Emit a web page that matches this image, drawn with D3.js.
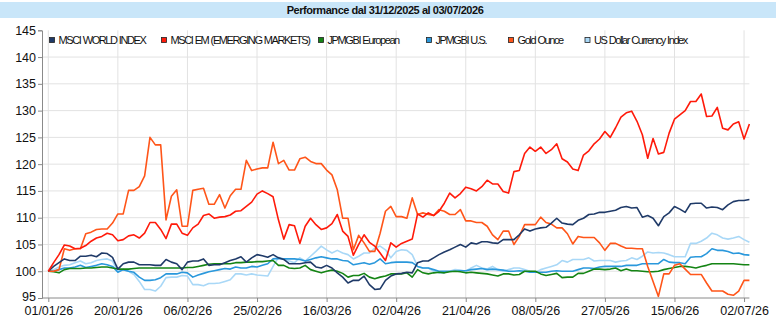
<html>

<head>
    <style>
        body { margin: 0; background: #fff; }
        text { font-family: "Liberation Sans", Arial, sans-serif; }
    </style>
</head>

<body>
    <div id="my_dataviz"></div>
</body>

<script src="https://d3js.org/d3.v7.min.js"></script>
<script>
    // x axis: trading days from 01/01/26 (index 0) to 03/07/26 (index 131)
    var tickLabels = ["01/01/26", "20/01/26", "06/02/26", "25/02/26", "16/03/26", "02/04/26",
        "21/04/26", "08/05/26", "27/05/26", "15/06/26", "02/07/26"];
    var tickIndex = [0, 13, 26, 39, 52, 65, 78, 91, 104, 117, 130];
    var lastIndex = 131;

    var seriesNames = ["MSCI WORLD INDEX", "MSCI EM (EMERGING MARKETS)", "JPMGBI European",
        "JPMGBI U.S.", "Gold Ounce", "US Dollar Currency Index"];
    var seriesColors = ["#1f3a68", "#ff1a0a", "#148414", "#2a98dc", "#ff5519", "#a9d8f7"];

    var msciWorld = [100, 100.9, 101.6, 102.3, 102.0, 102.0, 102.8, 102.8, 103.0, 102.7, 103.4, 103.3, 102.6, 100.4, 101.4, 101.7, 101.7, 101.2, 101.2, 101.2, 101.1, 101.1, 102.2, 101.7, 101.4, 100.3, 101.7, 101.9, 101.9, 102.3, 101.1, 101.2, 101.2, 101.6, 102.0, 102.3, 102.7, 101.7, 102.5, 103.1, 102.9, 102.6, 103.1, 102.5,
        102.2, 101.4, 101.4, 101.4, 101.6, 101.7, 100.8, 100.6, 101.1, 100.6, 99.7, 98.9, 97.8, 98.3, 98.3, 99.1, 97.5, 96.6, 96.7, 98.3, 99.1, 99.5, 99.6, 99.8, 99.7, 101.6, 101.9, 101.9, 102.5, 103.1, 103.6, 104.0, 104.5, 105.0, 104.5, 105.3, 105.1, 105.5, 105.5, 105.3, 105.2, 105.9, 105.9, 105.9, 106.8,
        107.9, 107.5, 107.9, 108.1, 108.2, 109.0, 109.9, 109.0, 108.8, 108.7, 109.5, 109.9, 110.6, 110.7, 111.0, 111.0, 111.2, 111.4, 111.9, 112.1, 111.8, 111.9, 110.1, 110.4, 109.9, 108.5, 110.2, 110.9, 112.1, 111.6, 111.0, 112.6, 112.7, 112.7, 111.8, 112.0, 111.9, 111.5, 112.4, 113.0, 113.2, 113.2, 113.4];

    var msciEm = [100, 101.6, 103.1, 104.9, 104.7, 104.2, 104.3, 104.8, 105.6, 106.2, 106.5, 107.1, 106.8, 105.7, 105.9, 106.6, 106.8, 106.2, 107.1, 109.1, 109.1, 107.8, 106.1, 108.8, 108.8, 107.1, 106.7, 108.1, 108.8, 110.4, 110.7, 109.9, 110.1, 110.2, 110.5, 111.2, 111.3, 112.1, 112.9, 114.4, 115.0, 114.5, 113.9, 109.6,
        106.0, 108.7, 108.5, 105.2, 108.4, 109.9, 108.7, 107.8, 108.1, 108.9, 110.6, 107.5, 106.5, 103.0, 105.0, 106.8, 105.4, 104.7, 103.4, 102.0, 105.3, 104.5, 105.2, 105.6, 106.0, 110.7, 110.1, 110.9, 110.4, 111.2, 112.7, 114.6, 113.7, 114.5, 115.7, 115.4, 115.0, 115.8, 117.0, 116.3, 116.3, 114.9, 114.6, 118.6, 118.8,
        122.0, 123.2, 122.4, 123.2, 122.0, 122.7, 123.8, 121.0, 120.4, 119.1, 118.8, 121.7, 122.5, 123.8, 124.7, 126.1, 125.0, 126.8, 128.8, 129.6, 129.9, 128.0, 125.5, 121.1, 124.8, 121.9, 122.2, 125.8, 128.4, 129.2, 130.0, 131.7, 131.7, 133.1, 128.9, 129.0, 130.6, 126.7, 126.4, 127.5, 127.9, 124.7, 127.5];

    var jpmEuro = [100, 99.9, 99.7, 100.3, 100.5, 100.5, 100.5, 100.6, 100.6, 100.7, 100.8, 100.8, 100.6, 100.4, 100.4, 100.4, 100.5, 100.6, 100.6, 100.6, 100.6, 100.6, 100.6, 100.6, 100.6, 100.6, 100.7, 100.7, 100.9, 101.1, 101.3, 101.4, 101.4, 101.4, 101.4, 101.6, 101.6, 101.7, 101.7, 101.8, 101.8, 101.9, 102.0, 101.1,
        101.1, 100.6, 100.5, 100.6, 101.1, 100.3, 100.0, 99.7, 100.0, 100.2, 100.0, 99.6, 98.9, 99.2, 99.2, 99.6, 98.9, 98.6, 98.9, 99.1, 99.5, 99.5, 99.5, 99.7, 98.9, 100.3, 99.7, 99.5, 99.7, 99.8, 99.7, 99.9, 100.0, 99.9, 99.7, 99.8, 99.7, 99.6, 99.5, 99.3, 99.1, 99.5, 99.5, 99.3, 99.4,
        100.0, 100.0, 100.0, 99.5, 99.2, 99.4, 99.6, 98.8, 98.9, 98.9, 99.6, 99.6, 100.0, 100.4, 100.4, 100.3, 100.4, 100.6, 100.1, 100.4, 100.1, 100.1, 100.0, 99.9, 99.9, 100.0, 100.3, 100.5, 100.7, 100.9, 100.9, 100.8, 100.6, 100.9, 101.1, 101.4, 101.4, 101.4, 101.4, 101.4, 101.3, 101.2, 101.2];

    var jpmUs = [100, 100, 100.3, 100.6, 100.6, 100.8, 101.1, 100.7, 100.9, 101.1, 101.4, 101.2, 100.9, 99.8, 100.3, 100.0, 99.8, 98.9, 98.3, 98.3, 98.4, 98.8, 99.5, 99.5, 99.5, 99.8, 99.7, 98.9, 99.3, 99.6, 99.9, 100.1, 100.3, 100.5, 100.4, 100.8, 100.6, 100.6, 100.9, 100.8, 101.1, 101.4, 102.3, 102.4,
        102.3, 102.3, 102.3, 102.2, 101.9, 102.2, 102.5, 102.7, 102.5, 102.3, 102.3, 102.0, 101.9, 101.2, 101.4, 101.6, 101.3, 101.6, 102.3, 101.4, 101.6, 101.7, 101.7, 101.7, 101.6, 100.9, 100.6, 100.6, 100.3, 100.0, 100.0, 100.0, 100.0, 100.1, 100.1, 100.3, 100.4, 100.5, 100.3, 100.4, 100.3, 100.2, 100.0, 100.0, 100.1,
        100.0, 99.8, 99.8, 99.8, 99.8, 100.0, 100.1, 100.0, 100.0, 100.0, 100.3, 100.6, 100.6, 100.5, 100.8, 100.9, 100.9, 100.9, 100.9, 101.1, 101.1, 101.1, 101.4, 101.4, 101.4, 101.4, 102.2, 101.7, 101.6, 101.6, 101.4, 102.6, 102.7, 102.7, 103.3, 104.2, 103.9, 103.9, 103.7, 103.3, 103.4, 103.1, 103.0];

    var goldOunce = [100, 100, 100.3, 104.2, 103.9, 104.2, 104.2, 107.0, 107.3, 107.8, 107.9, 107.9, 109.0, 110.7, 110.7, 115.1, 115.1, 115.8, 117.8, 125.0, 123.6, 123.6, 109.6, 114.0, 115.2, 108.4, 108.4, 115.1, 115.3, 115.5, 112.5, 112.5, 114.3, 111.8, 114.1, 115.3, 115.3, 120.7, 118.8, 119.1, 119.3, 119.3, 124.1, 120.1,
        120.7, 118.9, 118.9, 121.0, 121.3, 120.5, 120.1, 120.1, 118.9, 118.0, 115.2, 109.9, 109.9, 104.0, 106.7, 105.3, 103.7, 103.7, 107.1, 111.2, 112.1, 110.2, 110.2, 109.9, 113.7, 110.6, 110.9, 110.6, 110.4, 111.5, 111.2, 110.6, 110.6, 111.5, 109.4, 109.4, 109.1, 109.1, 108.4, 106.8, 105.9, 107.5, 107.5, 105.0, 106.5,
        108.7, 108.7, 108.7, 110.1, 109.1, 108.8, 108.1, 108.1, 107.0, 105.1, 106.5, 106.3, 106.3, 106.3, 105.3, 103.9, 105.2, 105.2, 104.7, 104.3, 104.3, 104.2, 104.2, 100.9, 98.1, 95.3, 99.5, 99.5, 101.1, 101.4, 100.4, 99.4, 99.4, 99.4, 97.8, 96.3, 96.3, 96.3, 95.7, 95.5, 96.3, 98.3, 98.3];

    var usDollar = [100, 100.3, 100.8, 101.1, 101.2, 101.6, 101.9, 101.4, 101.6, 102.0, 102.2, 102.3, 101.9, 100.0, 100.3, 100.0, 99.4, 98.1, 96.6, 96.6, 96.3, 97.2, 98.8, 98.9, 98.9, 99.2, 99.1, 97.5, 97.5, 97.3, 97.7, 97.7, 97.8, 98.1, 98.4, 99.5, 99.5, 99.3, 99.5, 99.3, 99.2, 99.1, 100.9, 102.6,
        102.2, 101.9, 101.6, 102.5, 101.9, 102.8, 103.7, 104.7, 104.0, 103.4, 103.9, 103.4, 103.1, 102.3, 102.8, 103.4, 103.4, 104.3, 104.7, 104.0, 102.5, 103.7, 104.0, 103.9, 103.1, 100.9, 100.6, 100.6, 100.0, 99.7, 99.7, 100.0, 100.3, 100.2, 100.0, 100.6, 101.1, 100.6, 100.4, 100.9, 100.3, 100.0, 100.3, 100.6, 100.6,
        100.3, 100.0, 99.8, 100.3, 100.6, 100.9, 101.2, 102.0, 101.7, 102.2, 102.2, 102.2, 102.5, 101.9, 102.0, 102.0, 102.0, 101.7, 101.9, 102.0, 102.5, 102.2, 102.8, 103.6, 103.4, 103.5, 103.4, 103.1, 102.7, 102.7, 102.7, 105.2, 105.2, 105.6, 106.2, 107.1, 106.8, 106.2, 106.0, 106.2, 106.5, 105.9, 105.4];

    var yTicks = [95, 100, 105, 110, 115, 120, 125, 130, 135, 140, 145];

    var W = 776, H = 326;
    var plotLeft = 42, plotRight = 749.4, plotTop = 30.3, plotBottom = 298;

    var svg = d3.select("#my_dataviz")
        .append("svg")
        .attr("width", W)
        .attr("height", H);

    // title band
    svg.append("rect")
        .attr("x", 0).attr("y", 2)
        .attr("width", W).attr("height", 16)
        .attr("fill", "#c9e6f9");
    svg.append("text")
        .attr("x", 385).attr("y", 14)
        .attr("text-anchor", "middle")
        .style("font-size", "11px")
        .style("font-weight", "bold")
        .style("letter-spacing", "-0.45px")
        .attr("fill", "#111")
        .text("Performance dal 31/12/2025 al 03/07/2026");

    var x = d3.scaleLinear()
        .domain([0, lastIndex])
        .range([48.3, plotRight]);

    var y = d3.scaleLinear()
        .domain([95, 145])
        .range([plotBottom, plotTop]);

    // grid
    svg.append("g")
        .selectAll("line")
        .data(yTicks.filter(function (d) { return d > 95 && d < 145; }))
        .enter()
        .append("line")
        .attr("x1", plotLeft).attr("x2", plotRight)
        .attr("y1", function (d) { return y(d); })
        .attr("y2", function (d) { return y(d); })
        .attr("stroke", "#e2e2e2")
        .attr("stroke-width", 1);

    svg.append("g")
        .selectAll("line")
        .data(tickIndex)
        .enter()
        .append("line")
        .attr("x1", function (d) { return x(d); })
        .attr("x2", function (d) { return x(d); })
        .attr("y1", plotTop).attr("y2", plotBottom)
        .attr("stroke", "#e2e2e2")
        .attr("stroke-width", 1);

    // legend
    var legendX = [49.5, 161.5, 318.5, 426.5, 508.5, 585];
    var legend = svg.append("g");
    seriesNames.forEach(function (name, i) {
        legend.append("rect")
            .attr("x", legendX[i]).attr("y", 37.5)
            .attr("width", 5).attr("height", 5)
            .attr("fill", seriesColors[i])
            .attr("stroke", "#222")
            .attr("stroke-width", 0.8);
        legend.append("text")
            .attr("x", legendX[i] + 9).attr("y", 43.5)
            .style("font-size", "11px")
            .style("letter-spacing", "-1.4px")
            .style("word-spacing", "0.6px")
            .attr("fill", "#111")
            .text(name);
    });

    // lines
    var line = d3.line()
        .x(function (d, i) { return x(i); })
        .y(function (d) { return y(d); });

    var drawOrder = [5, 3, 2, 4, 0, 1];
    var allSeries = [msciWorld, msciEm, jpmEuro, jpmUs, goldOunce, usDollar];
    drawOrder.forEach(function (k) {
        svg.append("path")
            .datum(allSeries[k])
            .attr("fill", "none")
            .attr("stroke", seriesColors[k])
            .attr("stroke-width", 1.6)
            .attr("stroke-linejoin", "round")
            .attr("d", line);
    });

    // axes
    var xAxis = svg.append("g")
        .attr("transform", "translate(0," + plotBottom + ")")
        .call(d3.axisBottom(x)
            .tickValues(tickIndex)
            .tickFormat(function (d, i) { return tickLabels[i]; })
            .tickSize(4)
            .tickPadding(4));
    xAxis.select(".domain").attr("d", "M" + plotLeft + ",0H" + plotRight);

    var yAxis = svg.append("g")
        .attr("transform", "translate(" + plotLeft + ",0)")
        .call(d3.axisLeft(y)
            .tickValues(yTicks)
            .tickSize(4)
            .tickPadding(2));

    [xAxis, yAxis].forEach(function (ax) {
        ax.select(".domain").attr("stroke", "#8a8a8a");
        ax.selectAll(".tick line").attr("stroke", "#8a8a8a");
        ax.selectAll("text")
            .style("font-size", "12.5px")
            .style("font-family", "'Liberation Sans', Arial, sans-serif")
            .attr("fill", "#111");
    });
    // keep the lowest y label clear of the first date label
    yAxis.selectAll(".tick text").filter(function (d) { return d === 95; }).attr("dy", "0.2em");
</script>

</html>
